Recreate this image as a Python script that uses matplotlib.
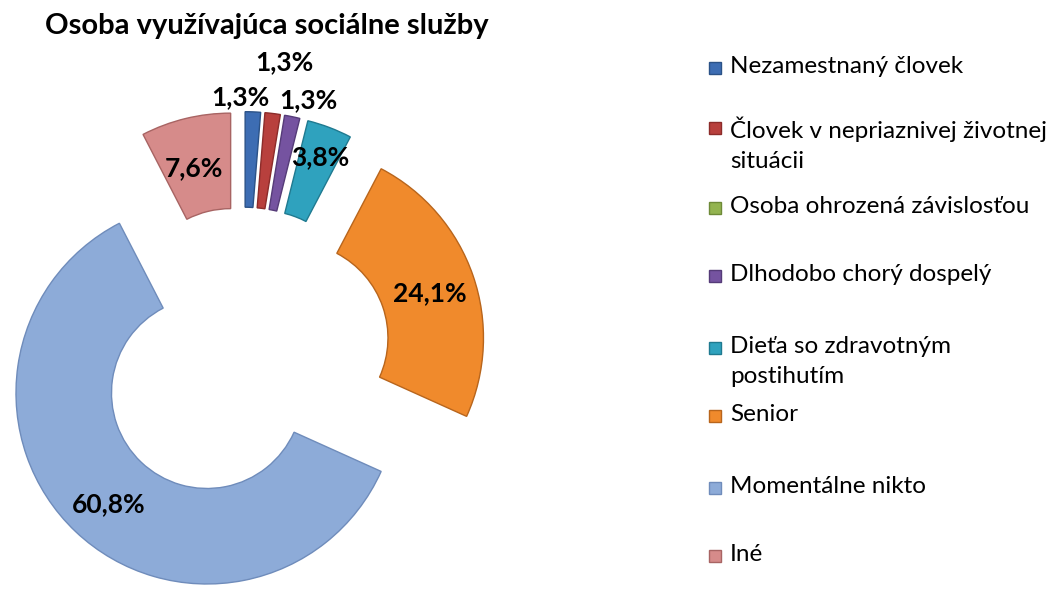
import matplotlib
matplotlib.use("Agg")
import matplotlib.pyplot as plt
from matplotlib.patches import Rectangle
import numpy as np

# data
categories = ["Nezamestnaný človek",
              "Človek v nepriaznivej životnej\nsituácii",
              "Osoba ohrozená závislosťou",
              "Dlhodobo chorý dospelý",
              "Dieťa so zdravotným\npostihutím",
              "Senior",
              "Momentálne nikto",
              "Iné"]
values = [1.3, 1.3, 0.0, 1.3, 3.8, 24.1, 60.8, 7.6]
colors = ["#3D6DB3", "#B8403D", "#93B450", "#7553A0", "#2FA2BE", "#F08A2C", "#8DABD8", "#D68B8A"]
edges = ["#2B5287", "#8C2C2A", "#6E8A38", "#553B78", "#1F7A90", "#B8651C", "#6F8CBB", "#A86463"]

# label placement: radius from centre and angle tweak (deg)
label_r = [1.35, 1.55, 0, 1.38, 1.11, 1.03, 1.05, 1.01]
label_dt = [-3.0, 1.0, 0, 2.7, 0.4, 0.8, -1.4, -1.0]

W, H = 1054, 589
R_PX = 191.0
CX, CY = 243.0, 355.0

plt.rcParams['font.family'] = ['Lato', 'DejaVu Sans']

fig = plt.figure(figsize=(W / 100, H / 100), dpi=100)
ax = fig.add_axes([0, 0, 1, 1])

wedges, _ = ax.pie(values, colors=colors, startangle=90, counterclock=False,
                   radius=1.0, explode=[0.274] * len(values),
                   wedgeprops=dict(width=0.5, linewidth=1.0))
for w, ec, v in zip(wedges, edges, values):
    w.set_edgecolor(ec)
    if v == 0:
        w.set_visible(False)

# pie resets the limits, so set them afterwards
ax.set_xlim(-CX / R_PX, (W - CX) / R_PX)
ax.set_ylim(-(H - CY) / R_PX, CY / R_PX)
ax.set_aspect('equal')
ax.axis('off')

total = sum(values)
cum = np.cumsum([0] + values)
for i, v in enumerate(values):
    if v == 0:
        continue
    mid = (cum[i] + cum[i + 1]) / 2 / total * 360 + label_dt[i]
    th = np.deg2rad(mid)
    x = label_r[i] * np.sin(th)
    y = label_r[i] * np.cos(th)
    ax.text(x, y, f"{v:.1f}%".replace(".", ","), ha='center', va='center',
            fontsize=19, fontweight='bold', color='black')

fig.text(267 / W, 1 - 26 / H, "Osoba využívajúca sociálne služby", ha='center', va='center',
         fontsize=21, fontweight='bold')

# legend
leg_y = [68, 128, 208, 276, 348, 416, 488, 556]
for lab, c, ec, yy in zip(categories, colors, edges, leg_y):
    fig.patches.append(Rectangle((709 / W, 1 - (yy + 6) / H), 12 / W, 12 / H,
                                 transform=fig.transFigure, facecolor=c, edgecolor=ec, lw=1))
    fig.text(730 / W, 1 - (yy - 12) / H, lab, ha='left', va='top', fontsize=17.5,
             linespacing=1.55)

fig.savefig("out.png", dpi=100)
